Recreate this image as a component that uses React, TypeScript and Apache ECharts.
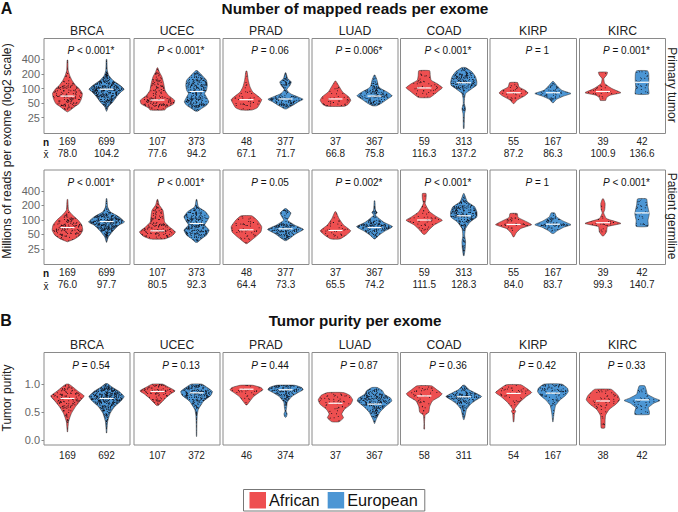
import React, { useEffect, useRef } from "react";
import * as echarts from "echarts";

const cancers = ["BRCA", "UCEC", "PRAD", "LUAD", "COAD", "KIRP", "KIRC"];
const readTicks = [25, 50, 100, 200, 400];
const purityTicks = [0, 0.5, 1];

const tumorN = [[169, 699], [107, 373], [48, 377], [37, 367], [59, 313], [55, 167], [39, 42]];
const tumorMean = [["78.0", "104.2"], ["77.6", "94.2"], ["67.1", "71.7"], ["66.8", "75.8"], ["116.3", "137.2"], ["87.2", "86.3"], ["100.9", "136.6"]];
const germlineN = [[169, 699], [107, 373], [48, 377], [37, 367], [59, 313], [55, 167], [39, 42]];
const germlineMean = [["76.0", "97.7"], ["80.5", "92.3"], ["64.4", "73.3"], ["65.5", "74.2"], ["111.5", "128.3"], ["84.0", "83.7"], ["99.3", "140.7"]];
const purityN = [[169, 692], [107, 372], [46, 374], [37, 367], [58, 311], [54, 167], [38, 42]];

const tumorP = ["< 0.001*", "< 0.001*", "= 0.06", "= 0.006*", "< 0.001*", "= 1", "= 0.001*"];
const germlineP = ["< 0.001*", "< 0.001*", "= 0.05", "= 0.002*", "< 0.001*", "= 1", "< 0.001*"];
const purityP = ["= 0.54", "= 0.13", "= 0.44", "= 0.87", "= 0.36", "= 0.42", "= 0.33"];

const tumorMedian = [[70, 97], [58, 87], [59, 61], [61, 70], [103, 132], [82, 82], [87, 135]];
const germlineMedian = [[69, 92], [59, 84], [62, 65], [60, 69], [99, 121], [80, 81], [87, 139]];
const purityMedian = [[0.745, 0.745], [0.87, 0.845], [0.91, 0.9], [0.66, 0.645], [0.79, 0.775], [0.835, 0.84], [0.7, 0.72]];

// Violin outlines: [value, relative half width]
const tumorAfrican = [
  [[387, .02], [240, .04], [189, .12], [149, .25], [117, .45], [100, .65], [79, .83], [62, .78], [49, .65], [42, .4], [35.5, .15], [33, .01]],
  [[268, .02], [222, .1], [174, .25], [127, .35], [92, .42], [73, .6], [57, .96], [48, .9], [40, .5], [36, .4]],
  [[229, .03], [149, .1], [108, .2], [85, .35], [67, .7], [59, .85], [49, .75], [40, .6], [36, .3]],
  [[142, .03], [104, .25], [85, .4], [67, .75], [57, .85], [47, .7], [43, .5]],
  [[234, .3], [189, .33], [149, .38], [127, .7], [104, 1], [90, .8], [73, .5], [65, .3]],
  [[133, .22], [108, .3], [92, .65], [81, .8], [70, .6], [58, .2], [49, .03]],
  [[218, .25], [189, .2], [161, .05], [127, .1], [100, .5], [82, 1], [73, .4], [65, .2], [57, .15]],
];
const tumorEuropean = [
  [[400, .02], [240, .04], [189, .12], [149, .35], [117, .75], [97, .98], [85, .8], [67, .55], [53, .35], [42, .1], [34, .01]],
  [[234, .05], [189, .3], [149, .55], [117, .6], [92, .55], [79, .45], [62, .6], [53, .68], [45, .55], [38, .25], [34, .05]],
  [[212, .02], [161, .12], [137, .32], [117, .25], [95, .07], [79, .25], [67, .7], [60, .98], [53, .7], [45, .4], [38, .05]],
  [[189, .03], [149, .14], [112, .22], [100, .35], [85, .7], [71, .98], [60, .7], [50, .4], [44, .1]],
  [[272, .1], [222, .45], [174, .65], [137, .72], [117, .7], [100, .45], [79, .1], [62, .04], [49, .03], [38, .1], [30, .04], [15, .02]],
  [[140, .03], [112, .25], [92, .5], [79, 1], [70, .6], [60, .2], [51, .03]],
  [[234, .3], [205, .37], [149, .38], [104, .35], [77, .38]],
];
const germlineAfrican = [
  [[264, .02], [159, .06], [129, .25], [98, .6], [78, .8], [61, .85], [48, .7], [40, .4], [35, .01]],
  [[264, .02], [203, .1], [159, .3], [127, .35], [90, .4], [72, .65], [56, 1], [46, .8], [40, .4]],
  [[121, .3], [98, .6], [72, .85], [56, .8], [44, .5], [32, .03]],
  [[147, .03], [106, .2], [78, .45], [59, .85], [48, .6], [40, .25]],
  [[351, .1], [275, .1], [217, .05], [147, .3], [115, .7], [98, 1], [78, .55], [61, .25], [50, .05]],
  [[135, .2], [112, .25], [90, .75], [79, 1], [66, .4], [54, .15], [44, .02]],
  [[272, .03], [218, .12], [163, .1], [139, .04], [106, .2], [84, 1], [72, .25], [56, .2], [46, .03]],
];
const germlineEuropean = [
  [[275, .02], [186, .06], [147, .2], [115, .7], [90, 1], [78, .7], [61, .4], [44, .1], [34, .01]],
  [[264, .02], [186, .1], [147, .5], [115, .7], [90, .55], [78, .45], [61, .7], [48, .55], [41, .3], [34, .05]],
  [[171, .03], [139, .3], [115, .2], [98, .1], [78, .5], [63, 1], [52, .6], [43, .3], [37, .05]],
  [[248, .02], [159, .05], [141, .15], [125, .05], [90, .5], [72, 1], [59, .6], [48, .25], [40, .03]],
  [[351, .02], [237, .2], [186, .6], [147, .72], [115, .72], [90, .35], [66, .1], [48, .05], [35, .1], [25.5, .08], [18, .02]],
  [[139, .1], [115, .2], [95, .55], [79, 1], [70, .6], [58, .2], [52, .05]],
  [[272, .25], [203, .3], [133, .4], [98, .33], [73, .33]],
];
const purityAfrican = [
  [[1, .08], [.95, .3], [.87, .6], [.79, .93], [.7, .7], [.6, .45], [.48, .22], [.33, .06], [.15, .01]],
  [[1, .3], [.95, .6], [.88, .98], [.83, .75], [.75, .45], [.62, .05]],
  [[.98, .35], [.94, .8], [.9, .92], [.85, .7], [.78, .4], [.7, .2], [.63, .03]],
  [[.85, .45], [.8, .8], [.72, .96], [.64, .85], [.55, .5], [.47, .35], [.4, .45], [.33, .2]],
  [[.97, .4], [.9, .7], [.83, .98], [.78, .85], [.7, .45], [.6, .3], [.5, .25], [.45, .05], [.3, .015], [.2, .02]],
  [[.99, .4], [.93, .7], [.85, 1], [.78, .7], [.68, .35], [.6, .15], [.55, .05], [.52, .12], [.47, .05], [.33, .02]],
  [[.91, .45], [.86, .65], [.79, .85], [.72, .93], [.65, .75], [.55, .35], [.45, .15], [.35, .12], [.22, .1]],
];
const purityEuropean = [
  [[1.01, .05], [.95, .3], [.87, .7], [.78, .98], [.7, .8], [.6, .45], [.48, .2], [.33, .06], [.13, .01]],
  [[1, .3], [.94, .6], [.87, .88], [.8, .8], [.7, .4], [.55, .1], [.45, .04], [.3, .02], [.07, .01]],
  [[.98, .5], [.94, .9], [.9, .98], [.85, .7], [.78, .35], [.68, .1], [.58, .06], [.52, .03], [.47, .09], [.42, .05], [.41, .02]],
  [[.94, .15], [.88, .45], [.82, .55], [.75, .9], [.7, .96], [.6, .6], [.5, .3], [.38, .1], [.3, .01]],
  [[.98, .05], [.9, .3], [.85, .6], [.78, .98], [.72, .7], [.65, .4], [.55, .15], [.45, .08], [.37, .02]],
  [[1, .5], [.93, .8], [.87, .85], [.8, .7], [.72, .4], [.62, .15], [.55, .1], [.45, .05], [.33, .01]],
  [[.97, .15], [.88, .25], [.82, .3], [.75, .7], [.71, 1], [.66, .65], [.58, .35], [.52, .4], [.46, .4]],
];

// Layout
const colLeft = [44, 134, 223, 312, 400.5, 490, 579.5];
const colWidth = [86, 86, 86, 86, 87, 86.5, 86];
const RED = "#EE4F50";
const BLUE = "#4C96D4";
const FONT = "'Liberation Sans', Arial, sans-serif";
const GREY = "#666666";
const BORDER = "#8a8a8a";

// Stipple texture standing in for the jittered sample dots
const stipple = [
  [.03, .11], [.37, .07], [.71, .03], [.19, .29], [.55, .23], [.89, .19], [.07, .47], [.43, .41],
  [.77, .37], [.29, .59], [.63, .53], [.95, .57], [.13, .71], [.49, .67], [.83, .73], [.33, .83],
  [.67, .81], [.03, .89], [.53, .93], [.91, .91], [.23, .97], [.79, .55], [.41, .25], [.15, .53],
];
const patternCache: Record<string, any> = {};
function patternFor(color: string, n: number) {
  const layers = n >= 600 ? 44 : n >= 300 ? 28 : n >= 100 ? 14 : 6;
  const size = 40;
  const key = color + layers;
  if (patternCache[key]) return patternCache[key];
  const c = document.createElement("canvas");
  c.width = size;
  c.height = size;
  const ctx = c.getContext("2d")!;
  ctx.fillStyle = color;
  ctx.fillRect(0, 0, size, size);
  ctx.fillStyle = "#0c0c14";
  for (let k = 0; k < layers; k++) {
    for (const [a, b] of stipple) {
      const px = (a * (2 * k + 1) * 1.0137 + k * 0.377) % 1;
      const py = (b * (2 * k + 3) * 1.0291 + k * 0.613) % 1;
      ctx.beginPath();
      ctx.arc(px * size, py * size, 0.5, 0, Math.PI * 2);
      ctx.fill();
    }
  }
  patternCache[key] = { image: c, repeat: "repeat" };
  return patternCache[key];
}

const log2 = (v: number) => Math.log(v) / Math.LN2;

function buildOption() {
  const grids: any[] = [];
  const xAxes: any[] = [];
  const yAxes: any[] = [];
  const series: any[] = [];
  const graphics: any[] = [];

  const text = (t: string, x: number, y: number, size: number, extra: any = {}, rotation = 0) =>
    graphics.push({
      type: "text",
      x,
      y,
      rotation,
      silent: true,
      style: { text: t, fontSize: size, fontFamily: FONT, fill: "#111", textAlign: "center", textVerticalAlign: "middle", ...extra },
    });

  const rows = [
    { top: 38.5, h: 95, log: true, n: tumorN, mean: tumorMean, p: tumorP, med: tumorMedian, af: tumorAfrican, eu: tumorEuropean, pY: 50.7, title: true },
    { top: 170, h: 94.5, log: true, n: germlineN, mean: germlineMean, p: germlineP, med: germlineMedian, af: germlineAfrican, eu: germlineEuropean, pY: 182.5, title: false },
    { top: 352.5, h: 92.5, log: false, n: purityN, mean: null, p: purityP, med: purityMedian, af: purityAfrican, eu: purityEuropean, pY: 365.7, title: true },
  ];

  rows.forEach((row: any) => {
    cancers.forEach((name, c) => {
      const g = grids.length;
      grids.push({ left: colLeft[c], top: row.top, width: colWidth[c], height: row.h, show: true, borderColor: BORDER, borderWidth: 1, backgroundColor: "#fff", containLabel: false });
      xAxes.push({
        type: "value",
        gridIndex: g,
        min: 0.4,
        max: 2.6,
        splitLine: { show: false },
        axisLine: { show: false },
        axisTick: { show: false },
        axisLabel: {
          customValues: [1, 2],
          margin: row.mean ? 2 : 4,
          fontSize: 10,
          lineHeight: 12,
          verticalAlign: "top",
          color: "#222",
          fontFamily: FONT,
          formatter: (v: number) => {
            const i = Math.round(v) - 1;
            return row.mean ? `${row.n[c][i]}\n${row.mean[c][i]}` : `${row.n[c][i]}`;
          },
        },
      });
      const ticks = row.log ? readTicks.map(log2) : purityTicks;
      yAxes.push({
        type: "value",
        gridIndex: g,
        min: row.log ? 3.56 : -0.083,
        max: row.log ? 10.08 : 1.563,
        splitLine: { show: false },
        axisLine: { show: false },
        axisTick: { show: c === 0, length: 2.5, customValues: ticks, lineStyle: { color: BORDER, width: 1 } },
        axisLabel: {
          show: c === 0,
          customValues: ticks,
          margin: 4,
          fontSize: 11,
          color: GREY,
          fontFamily: FONT,
          formatter: (v: number) => (row.log ? String(Math.round(Math.pow(2, v))) : v.toFixed(1)),
        },
      });

      [
        { sname: "African", color: RED, cx: 1, profile: row.af[c], n: row.n[c][0], med: row.med[c][0] },
        { sname: "European", color: BLUE, cx: 2, profile: row.eu[c], n: row.n[c][1], med: row.med[c][1] },
      ].forEach((v) => {
        const conv = (x: number) => (row.log ? log2(x) : x);
        series.push({
          type: "custom",
          name: v.sname,
          xAxisIndex: g,
          yAxisIndex: g,
          silent: true,
          clip: false,
          itemStyle: { color: v.color },
          encode: { x: 0, y: 1 },
          data: [[v.cx, conv(v.med)]],
          renderItem: (_p: any, api: any) => {
            const right = v.profile.map((q: number[]) => api.coord([v.cx + q[1] * 0.46, conv(q[0])]));
            const left = v.profile.map((q: number[]) => api.coord([v.cx - q[1] * 0.46, conv(q[0])])).reverse();
            const a = api.coord([v.cx - 0.18, conv(v.med)]);
            const b = api.coord([v.cx + 0.18, conv(v.med)]);
            return {
              type: "group",
              children: [
                {
                  type: "polygon",
                  shape: { points: right.concat(left), smooth: 0.15 },
                  style: { fill: patternFor(v.color, v.n), stroke: "#2a2a2a", lineWidth: 0.5 },
                },
                {
                  type: "line",
                  shape: { x1: a[0], y1: a[1], x2: b[0], y2: b[1] },
                  style: { stroke: "#fff", lineWidth: 1.2 },
                },
              ],
            };
          },
        });
      });

      const cx = colLeft[c] + colWidth[c] / 2;
      if (row.title) text(name, cx, row.top - 8, 12.2, { fill: "#222" });
      graphics.push({
        type: "text",
        x: cx + 4,
        y: row.pY,
        silent: true,
        style: {
          text: `{i|P}{t| ${row.p[c]}}`,
          textAlign: "center",
          textVerticalAlign: "middle",
          rich: {
            i: { fontStyle: "italic", fontSize: 10, fontFamily: FONT, fill: "#111" },
            t: { fontSize: 10, fontFamily: FONT, fill: "#111" },
          },
        },
      });
    });
  });

  text("Number of mapped reads per exome", 355, 8, 15.4, { fontWeight: "bold" });
  text("Tumor purity per exome", 355, 320, 15.2, { fontWeight: "bold" });
  text("A", 6.5, 8.5, 16, { fontWeight: "bold" });
  text("B", 6, 320, 16, { fontWeight: "bold" });
  text("n", 46, 142.5, 10, { fontWeight: "bold" });
  text("x\u0304", 46, 154.5, 10, {});
  text("n", 46, 273.5, 10, { fontWeight: "bold" });
  text("x\u0304", 46, 286, 10, {});
  text("Millions of reads per exome (log2 scale)", 7, 151, 12.2, { fill: "#222" }, Math.PI / 2);
  text("Tumor purity", 7, 398, 12, { fill: "#222" }, Math.PI / 2);
  text("Primary tumor", 672, 85, 12, { fill: "#222" }, -Math.PI / 2);
  text("Patient germline", 672, 216, 12, { fill: "#222" }, -Math.PI / 2);

  return {
    animation: false,
    backgroundColor: "#fff",
    grid: grids,
    xAxis: xAxes,
    yAxis: yAxes,
    series,
    graphic: graphics,
    legend: {
      left: 243.5,
      top: 489.5,
      orient: "horizontal",
      data: ["African", "European"],
      icon: "rect",
      itemWidth: 16.5,
      itemHeight: 16.5,
      itemGap: 8,
      padding: [2.5, 7, 2.5, 6],
      borderColor: "#777",
      borderWidth: 1,
      selectedMode: false,
      textStyle: { fontSize: 16.3, fontFamily: FONT, color: "#111", padding: [0, 0, 0, -2] },
    },
  };
}

export default function App() {
  const ref = useRef<HTMLDivElement>(null);
  useEffect(() => {
    const chart = echarts.init(ref.current!, undefined, { renderer: "svg" });
    chart.setOption(buildOption() as any);
    return () => chart.dispose();
  }, []);
  return <div ref={ref} style={{ position: "fixed", left: 0, top: 0, width: 678, height: 512 }} />;
}
